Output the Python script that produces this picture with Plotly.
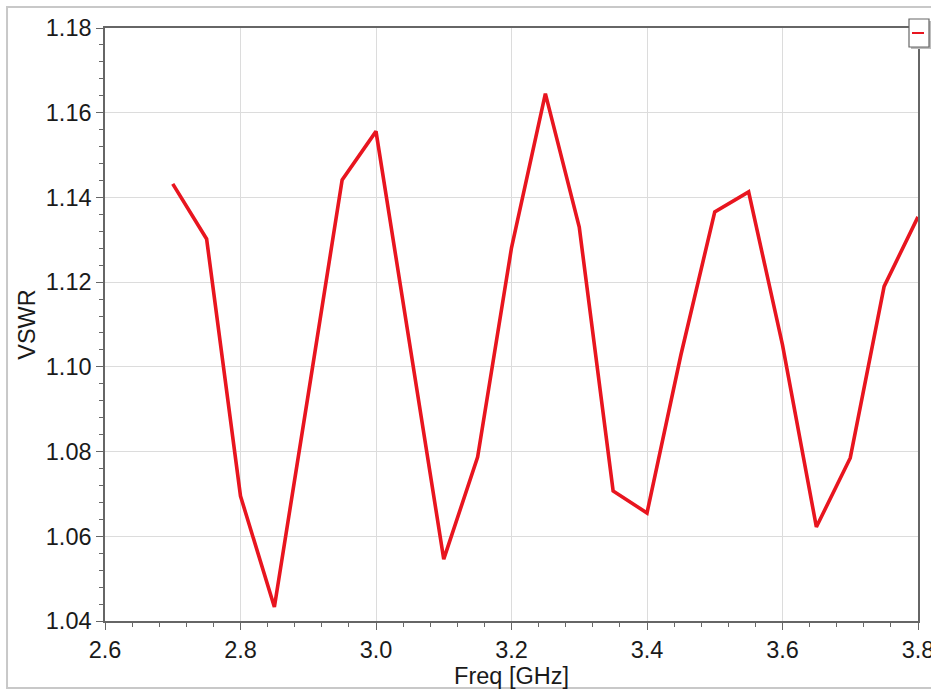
import plotly.graph_objects as go

freq = [2.70, 2.75, 2.80, 2.85, 2.90, 2.95, 3.00, 3.05, 3.10, 3.15, 3.20, 3.25,
        3.30, 3.35, 3.40, 3.45, 3.50, 3.55, 3.60, 3.65, 3.70, 3.75, 3.80]
vswr = [1.1432, 1.1302, 1.0695, 1.0433, 1.0935, 1.1441, 1.1556, 1.1050, 1.0546,
        1.0787, 1.1281, 1.1645, 1.1330, 1.0707, 1.0655, 1.1028, 1.1366, 1.1413,
        1.1052, 1.0622, 1.0785, 1.1190, 1.1354]

x_ticks = [2.6, 2.8, 3.0, 3.2, 3.4, 3.6, 3.8]
x_tick_labels = ["2.6", "2.8", "3.0", "3.2", "3.4", "3.6", "3.8"]
y_ticks = [1.04, 1.06, 1.08, 1.10, 1.12, 1.14, 1.16, 1.18]
y_tick_labels = ["1.04", "1.06", "1.08", "1.10", "1.12", "1.14", "1.16", "1.18"]

fig = go.Figure()
fig.add_trace(go.Scatter(x=freq, y=vswr, mode="lines",
                         line=dict(color="#e8151f", width=3.6),
                         showlegend=False, cliponaxis=True))

font = dict(family="Liberation Sans, Arial, sans-serif", size=23.5, color="#1a1a1a")
axis_common = dict(showline=True, linecolor="#666666", linewidth=1.5, mirror=True,
                   showgrid=True, gridcolor="#dcdcdc", gridwidth=1,
                   ticks="outside", ticklen=7, tickwidth=1.3, tickcolor="#666666",
                   zeroline=False, tickfont=font, ticklabeloverflow="allow",
                   automargin=False)

fig.update_xaxes(range=[2.6, 3.8], tickvals=x_ticks, ticktext=x_tick_labels,
                 title=dict(text="Freq [GHz]", font=font, standoff=0),
                 minor=dict(dtick=0.04, tick0=2.6, ticks="outside", ticklen=4,
                            tickwidth=1.2, tickcolor="#666666", showgrid=False),
                 **axis_common)
fig.update_yaxes(range=[1.04, 1.18], tickvals=y_ticks, ticktext=y_tick_labels,
                 title=dict(text="VSWR", font=font, standoff=4),
                 minor=dict(dtick=0.004, tick0=1.04, ticks="outside", ticklen=4,
                            tickwidth=1.2, tickcolor="#666666", showgrid=False),
                 **axis_common)

# outer frame
fig.add_shape(type="rect", xref="paper", yref="paper",
              x0=-0.1205, x1=1.03, y0=-0.113, y1=1.0354,
              line=dict(color="#c8c8c8", width=2), fillcolor="rgba(0,0,0,0)", layer="below")
# legend stub box (shadow + box + line sample)
fig.add_shape(type="rect", xref="paper", yref="paper",
              x0=(911 - 105) / 813, x1=(931 - 105) / 813,
              y0=1 - (49 - 28) / 593, y1=1 - (21 - 28) / 593,
              line=dict(width=0), fillcolor="#bdbdbd")
fig.add_shape(type="rect", xref="paper", yref="paper",
              x0=(909 - 105) / 813, x1=(929 - 105) / 813,
              y0=1 - (47 - 28) / 593, y1=1 - (19 - 28) / 593,
              line=dict(color="#666666", width=1.2), fillcolor="white")
fig.add_shape(type="line", xref="paper", yref="paper",
              x0=(912 - 105) / 813, x1=(924 - 105) / 813,
              y0=1 - (33 - 28) / 593, y1=1 - (33 - 28) / 593,
              line=dict(color="#e8151f", width=2))

fig.update_layout(width=931, height=691, autosize=False,
                  margin=dict(l=105, r=13, t=28, b=70),
                  plot_bgcolor="white", paper_bgcolor="white",
                  font=font)

fig.write_html("out.html", config={"responsive": False, "displayModeBar": False},
               post_script="document.body.style.margin='0';document.body.style.overflow='hidden';")
